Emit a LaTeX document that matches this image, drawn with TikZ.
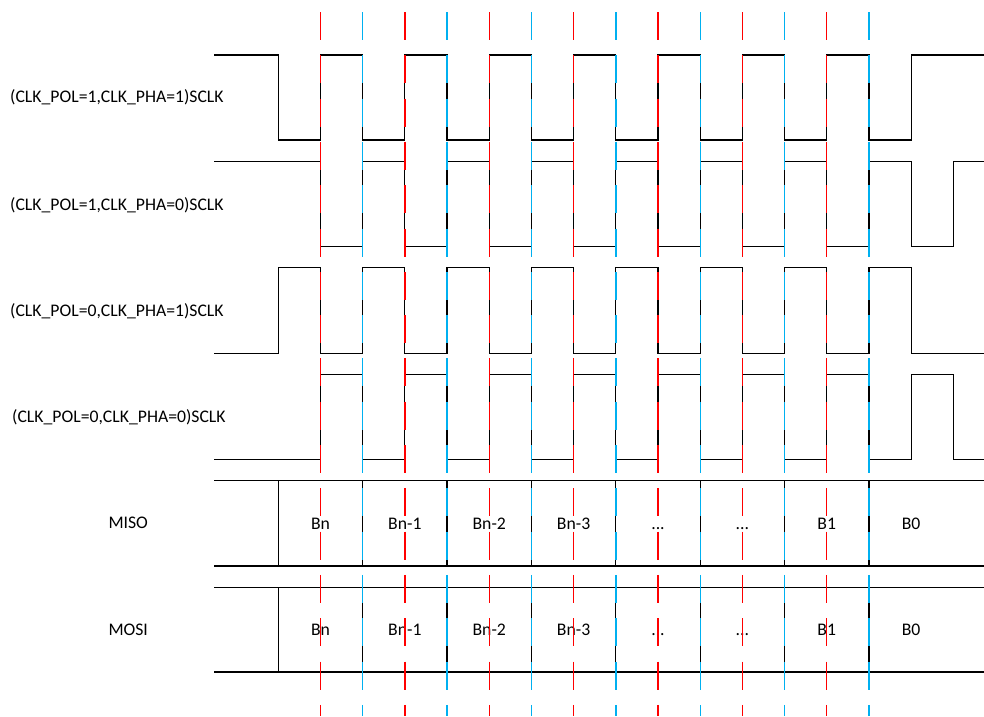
\documentclass[tikz,border=0pt]{standalone}
\usepackage{fontspec}
\setmainfont{Carlito}
\usepackage{tikz}
\definecolor{edgered}{HTML}{FF0000}
\definecolor{edgeblue}{HTML}{00B0F0}
\newcommand{\edgex}[1]{278.3+42.19*#1}
\newcommand{\gapdots}{...}
\tikzset{
  signallabel/.style={
    anchor=west,
    inner sep=0pt,
    font=\fontsize{17.7}{21}\selectfont
  },
  cellnode/.style={
    inner sep=0pt,
    text height=11.4pt,
    text depth=0pt,
    font=\fontsize{17.7}{21}\selectfont
  },
  waveline/.style={draw=black,line width=1.2pt},
  reddash/.style={draw=edgered,line width=1.4pt,dash pattern=on 28pt off 15.3pt},
  bluedash/.style={draw=edgeblue,line width=1.4pt,dash pattern=on 28pt off 15.3pt}
}

\begin{document}
\begin{tikzpicture}[x=1pt,y=-1pt]
  \useasboundingbox (0,0) rectangle (984,716);
  \node[signallabel] (polonephaone) at (10,97) {(CLK\_POL=1,CLK\_PHA=1)SCLK};
  \node[signallabel] (polonephazero) at (10,205) {(CLK\_POL=1,CLK\_PHA=0)SCLK};
  \node[signallabel] (polzerophaone) at (10,311) {(CLK\_POL=0,CLK\_PHA=1)SCLK};
  \node[signallabel] (polzerophazero) at (12,417) {(CLK\_POL=0,CLK\_PHA=0)SCLK};
  \node[signallabel] (miso) at (108.3,523.3) {MISO};
  \node[signallabel] (mosi) at (108.3,630) {MOSI};
  \draw[waveline] (214.3,55) foreach \k in {0,2,...,14} { -| ({\edgex{\k}},140) -| ({\edgex{(\k+1)}},55) } -- (984,55);
  \draw[waveline] (214.3,161.7) foreach \k in {1,3,...,15} { -| ({\edgex{\k}},246.7) -| ({\edgex{(\k+1)}},161.7) } -- (984,161.7);
  \draw[waveline] (214.3,353.3) foreach \k in {0,2,...,14} { -| ({\edgex{\k}},267.7) -| ({\edgex{(\k+1)}},353.3) } -- (984,353.3);
  \draw[waveline] (214.3,459.3) foreach \k in {1,3,...,15} { -| ({\edgex{\k}},374.3) -| ({\edgex{(\k+1)}},459.3) } -- (984,459.3);
  \draw[waveline] (214.3,480.7) -- (984,480.7) (214.3,566) -- (984,566);
  \draw[waveline] (214.3,587.3) -- (984,587.3) (214.3,672) -- (984,672);
  \foreach \k in {0,2,...,14} {
    \draw[waveline] ({\edgex{\k}},480.7) -- ({\edgex{\k}},566);
    \draw[waveline] ({\edgex{\k}},587.3) -- ({\edgex{\k}},672);
  }
  \foreach \k/\bit in {1/Bn,3/Bn-1,5/Bn-2,7/Bn-3,9/\gapdots,11/\gapdots,13/B1,15/B0} {
    \node[cellnode] (misobit\k) at ({\edgex{\k}},523.3) {\bit};
    \node[cellnode] (mosibit\k) at ({\edgex{\k}},629.7) {\bit};
  }
  \foreach \k in {1,3,...,13} \draw[reddash] ({\edgex{\k}},12) -- ({\edgex{\k}},716);
  \foreach \k in {2,4,...,14} \draw[bluedash] ({\edgex{\k}},12) -- ({\edgex{\k}},716);
\end{tikzpicture}
\end{document}
